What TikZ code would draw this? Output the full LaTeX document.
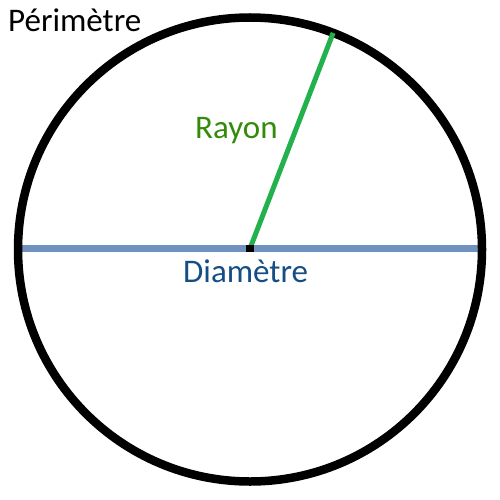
\documentclass[tikz,border=0pt]{standalone}
\usepackage{fontspec}
\setmainfont{Carlito}
\definecolor{diamblue}{RGB}{112,146,190}
\definecolor{raygreen}{RGB}{34,177,76}
\definecolor{raytext}{RGB}{52,138,10}
\definecolor{diamtext}{RGB}{20,78,132}
\begin{document}
\begin{tikzpicture}[x=1pt,y=-1pt,
  lbl/.style={inner sep=0pt,anchor=base west,font=\fontsize{33}{33}\selectfont}]
\useasboundingbox (0,0) rectangle (500,500);
\coordinate (c) at (250,249.5);
\node[circle,minimum size=464pt,inner sep=0pt,outer sep=0pt] (circ) at (c) {};
\coordinate (dl) at (22,248.5);
\coordinate (dr) at (478,248.5);
\draw[diamblue,line width=6.5pt] (dl) -- (dr);
\draw[black,line width=8.5pt] (c) circle[radius=232pt];
\coordinate (rtop) at (circ.69.7);
\coordinate (mid) at (250,248.5);
\draw[raygreen,line width=5pt] (mid) -- (rtop);
\node[fill=black,minimum width=8.5pt,minimum height=7pt,inner sep=0pt] (sq) at (mid) {};
\node[lbl] (per) at (8,32) {Périmètre};
\node[lbl,text=raytext] (ray) at (195,138) {Rayon};
\node[lbl,text=diamtext] (dia) at (183,282) {Diamètre};
\end{tikzpicture}
\end{document}
